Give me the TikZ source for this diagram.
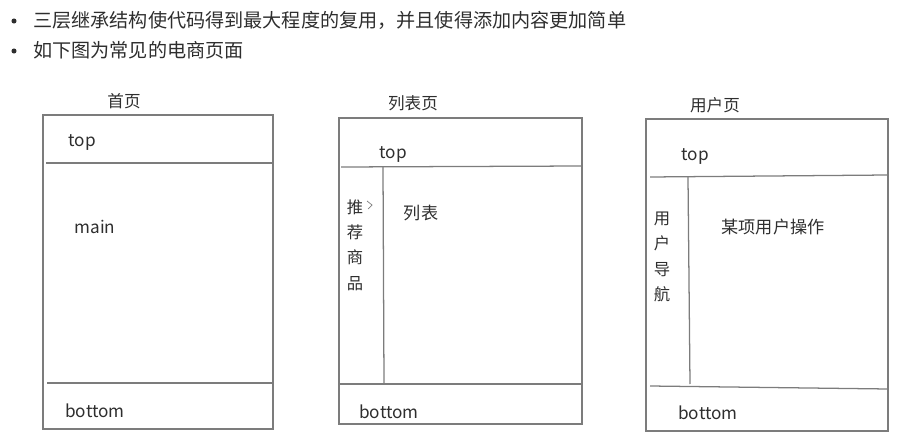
\documentclass[tikz,border=0pt]{standalone}
\usepackage{fontspec}
\setmainfont{Noto Sans CJK SC}
\usetikzlibrary{positioning}
\definecolor{sketchline}{HTML}{7C7C7C}
\definecolor{sketchtext}{HTML}{2E2E2E}
\tikzset{
  pagebox/.style={draw=sketchline, line width=0.9pt},
  divider/.style={draw=sketchline, line width=0.9pt},
  pagetitle/.style={text=sketchtext, font=\fontsize{11.8}{14}\selectfont, inner sep=0pt},
  partlabel/.style={text=sketchtext, font=\fontsize{12.2}{14}\selectfont, inner sep=0pt},
  sidelabel/.style={text=sketchtext, align=center, font=\fontsize{11.6}{18.1}\selectfont, inner sep=0pt},
  bullettext/.style={text=sketchtext, anchor=west, font=\fontsize{13.6}{16}\selectfont, inner sep=0pt},
  bulletdot/.style={circle, fill=sketchtext, inner sep=0pt, minimum size=3.6pt}
}

\begin{document}
\begin{tikzpicture}[x=0.025cm, y=-0.025cm]
  \useasboundingbox (0,0) rectangle (921,446);
  % heading bullets
  \node[bulletdot] (dot1) at (14,21) {};
  \node[bullettext] (line1) at (33,20) {三层继承结构使代码得到最大程度的复用，并且使得添加内容更加简单};
  \node[bulletdot] (dot2) at (14,51) {};
  \node[bullettext] (line2) at (33,50) {如下图为常见的电商页面};
  % home page
  \node[pagetitle] (hometitle) at (124,101) {首页};
  \draw[pagebox] (43,115) rectangle (273,429);
  \draw[divider] (46,163) -- (273,163);
  \draw[divider] (47,383) -- (273,383);
  \node[partlabel] (hometop) at (82,142) {top};
  \node[partlabel] (homemain) at (95,227) {main};
  \node[partlabel] (homebottom) at (95,411) {bottom};
  % list page
  \node[pagetitle] (listtitle) at (413,103) {列表页};
  \draw[pagebox] (339,118) rectangle (582,424);
  \draw[divider] (341,167) -- (582,166);
  \draw[divider] (383,167) -- (384,384);
  \draw[divider] (339,384) -- (582,384);
  \node[partlabel] (listtop) at (393,154) {top};
  \node[sidelabel] (listside) at (355,245) {推\\荐\\商\\品};
  \draw[sketchline, line width=0.5pt] (367,201) -- (372,205) -- (368,209);
  \node[partlabel] (listmain) at (421,213) {列表};
  \node[partlabel] (listbottom) at (389,412) {bottom};
  % user page
  \node[pagetitle] (usertitle) at (715,105) {用户页};
  \draw[pagebox] (646,119) rectangle (888,431);
  \draw[divider] (650,177) -- (888,175);
  \draw[divider] (688,177) -- (690,384);
  \draw[divider] (650,386) -- (888,389);
  \node[partlabel] (usertop) at (695,156) {top};
  \node[sidelabel] (userside) at (662,257) {用\\户\\导\\航};
  \node[partlabel] (usermain) at (773,227) {某项用户操作};
  \node[partlabel] (userbottom) at (708,413) {bottom};
\end{tikzpicture}
\end{document}
